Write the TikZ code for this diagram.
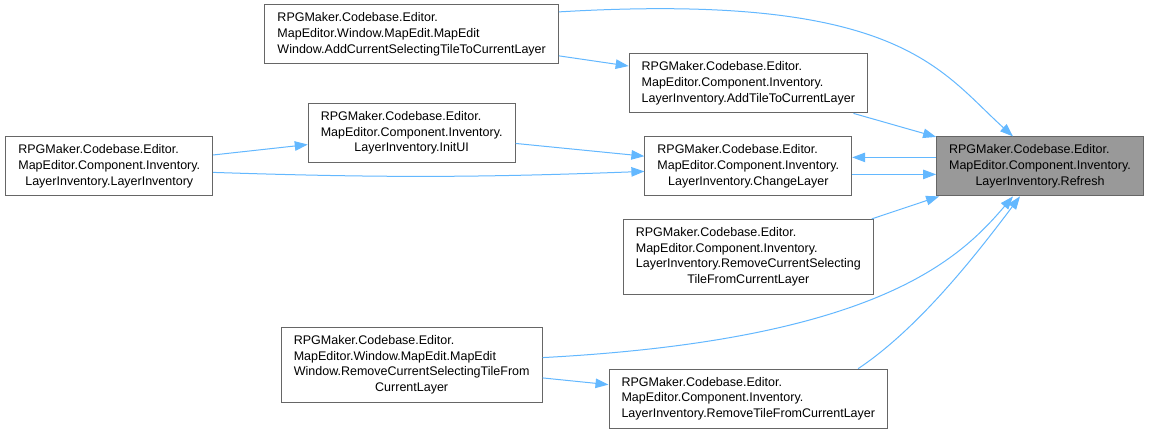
\documentclass[tikz,border=0pt]{standalone}
\usepackage{fontspec}
\setmainfont{Liberation Sans}
\usetikzlibrary{positioning,arrows.meta}
\definecolor{edgeblue}{HTML}{63B8FF}
\definecolor{boxgray}{HTML}{666666}
\definecolor{nodegray}{HTML}{999999}
\newcommand{\fnlab}[1]{\begin{tabular}{@{}l@{}}#1\end{tabular}}
\newcommand{\lastln}[1]{\multicolumn{1}{@{}c@{}}{#1}}
\tikzset{fn/.style={draw=boxgray, fill=white, line width=1pt,
    inner xsep=12.5pt, inner ysep=6.1pt,
    font=\fontsize{12.5}{15.6}\selectfont},
  current/.style={fn, fill=nodegray},
  call/.style={->, draw=edgeblue, line width=1pt}
}

\begin{document}
\begin{tikzpicture}[> = {Triangle[length=13pt,width=9.5pt]}, on grid,
    every edge/.style={draw=edgeblue, line width=1pt}]
    \fill[white] (-1040pt,-266.6pt) rectangle (110pt,166.4pt);
    \useasboundingbox (-1040pt,-266.6pt) rectangle (110pt,166.4pt);

    \node[current] (refresh)                                          {\fnlab{RPGMaker.Codebase.Editor.\\MapEditor.Component.Inventory.\\\lastln{LayerInventory.Refresh}}};
    \node[fn] (chlayer)    [left=291.7pt of refresh]                  {\fnlab{RPGMaker.Codebase.Editor.\\MapEditor.Component.Inventory.\\\lastln{LayerInventory.ChangeLayer}}};
    \node[fn] (addtile)    [above=83pt of chlayer]                    {\fnlab{RPGMaker.Codebase.Editor.\\MapEditor.Component.Inventory.\\\lastln{LayerInventory.AddTileToCurrentLayer}}};
    \node[fn] (removesel)  [below=90.3pt of chlayer]                  {\fnlab{RPGMaker.Codebase.Editor.\\MapEditor.Component.Inventory.\\LayerInventory.RemoveCurrentSelecting\\\lastln{TileFromCurrentLayer}}};
    \node[fn] (removetile) [below=232.3pt of chlayer]                 {\fnlab{RPGMaker.Codebase.Editor.\\MapEditor.Component.Inventory.\\\lastln{LayerInventory.RemoveTileFromCurrentLayer}}};
    \node[fn] (initui)     [above left=33.2pt and 336.6pt of chlayer] {\fnlab{RPGMaker.Codebase.Editor.\\MapEditor.Component.Inventory.\\\lastln{LayerInventory.InitUI}}};
    \node[fn] (addcursel)  [above=98.8pt of initui]                   {\fnlab{RPGMaker.Codebase.Editor.\\MapEditor.Window.MapEdit.MapEdit\\\lastln{Window.AddCurrentSelectingTileToCurrentLayer}}};
    \node[fn] (mapremove)  [below left=198.3pt and 336.6pt of chlayer] {\fnlab{RPGMaker.Codebase.Editor.\\MapEditor.Window.MapEdit.MapEdit\\Window.RemoveCurrentSelectingTileFrom\\\lastln{CurrentLayer}}};
    \node[fn] (ctor)       [left=639pt of chlayer]                    {\fnlab{RPGMaker.Codebase.Editor.\\MapEditor.Component.Inventory.\\\lastln{LayerInventory.LayerInventory}}};

    \path[->] (addcursel) edge (addtile)
              (addtile)   edge (refresh)
              (ctor)      edge (initui)
              ([yshift=-6pt]ctor.east) edge [bend right=2] ([yshift=-5pt]chlayer.west)
              (initui)    edge (chlayer)
              ([yshift=-8pt]chlayer.east) edge ([yshift=-8pt]refresh.west)
              ([yshift=9pt]refresh.west)  edge ([yshift=9pt]chlayer.east)
              ([xshift=-2pt]removesel.north east) edge ([xshift=3pt]refresh.south west)
              (mapremove) edge (removetile);

    % long curves into Refresh
    \draw[call] ([yshift=-7.5pt]addcursel.north east)
        .. controls +(340pt,20pt) and +(-74pt,67pt) .. ([xshift=-27pt]refresh.north);
    \draw[call] ([yshift=7.1pt]mapremove.east)
        .. controls +(336pt,17.7pt) and +(-53pt,-62pt) .. ([xshift=-27pt]refresh.south);
    \draw[call] ([xshift=-30pt]removetile.north east)
        .. controls +(60pt,40pt) and +(-45pt,-60pt) .. ([xshift=-20pt]refresh.south);
\end{tikzpicture}
\end{document}
